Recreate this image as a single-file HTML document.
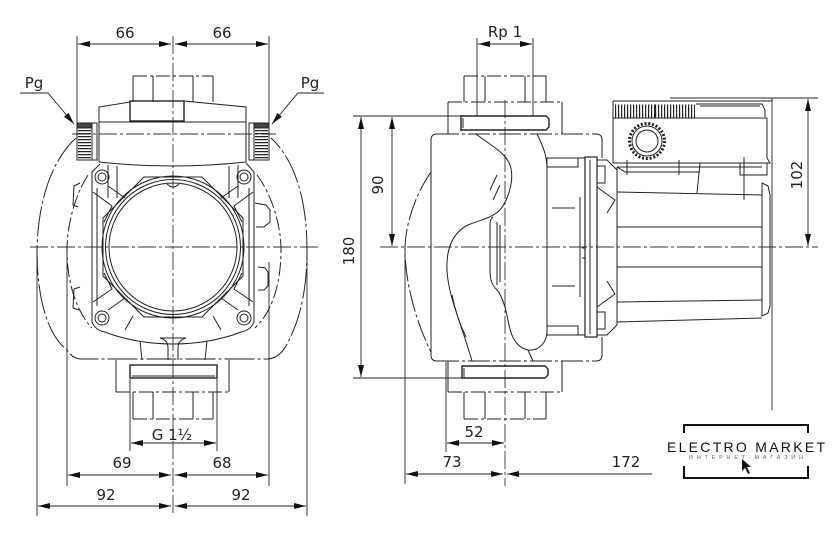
<!DOCTYPE html>
<html><head><meta charset="utf-8"><style>
html,body{margin:0;padding:0;background:#fff;}
svg{display:block;}
text{font-family:"DejaVu Sans","Liberation Sans",sans-serif;fill:#222;font-size:15px;}
</style></head><body>
<svg width="840" height="535" viewBox="0 0 840 535" xmlns="http://www.w3.org/2000/svg">
<defs>
<marker id="a" viewBox="0 0 12 6" refX="12" refY="3" markerWidth="12" markerHeight="6" markerUnits="userSpaceOnUse" orient="auto-start-reverse"><path d="M0,0 L12,3 L0,6 Z" fill="#111"/></marker>
</defs>
<rect width="840" height="535" fill="#fff"/>

<!-- ================= CENTER LINES ================= -->
<g fill="none" stroke="#333" stroke-width="0.9" stroke-dasharray="18 3 3 3">
<line x1="173" y1="36" x2="173" y2="516"/>
<line x1="30" y1="247" x2="320" y2="247"/>
<line x1="72" y1="134" x2="276" y2="134"/>
<line x1="505" y1="100" x2="505" y2="486"/>
<line x1="380" y1="247" x2="818" y2="247"/>
</g>

<!-- ================= LEFT VIEW ================= -->
<g fill="none" stroke="#222" stroke-width="1">
<!-- outer silhouette (phantom) -->
<path stroke-dasharray="30 3 3 3" d="M76,138 C52,160 38,200 37,250 C37,300 48,335 67,350 Q72,358 80,359 L268,359 Q280,358 287,344 C300,320 307,290 307,250 C307,200 295,160 271,138"/>
<!-- inner contour (phantom) -->
<path stroke-dasharray="14 3 3 3" d="M88,175 C75,195 67,225 67,250 C67,280 75,310 92,328"/>
<path stroke-dasharray="14 3 3 3" d="M257,175 C272,195 281,225 281,250 C281,280 274,310 255,328"/>

<!-- top connection -->
<line x1="133" y1="76" x2="213" y2="76" stroke-dasharray="14 3 3 3"/>
<path d="M133,76 V102 M153,76 V102 M193,76 V102 M213,76 V102"/>
<rect x="130" y="101" width="54" height="20" stroke-width="1.4"/>
<path d="M99,162 V107 L130,102 M184,101 L246,107 V162"/>
<line x1="99" y1="122" x2="246" y2="122"/>
<path d="M99,162 Q173,170 246,162"/>

<!-- nuts -->
<rect x="77" y="123" width="20" height="37"/>
<line x1="92" y1="123" x2="92" y2="160"/>
<rect x="77" y="123" width="15" height="5" fill="#444"/>
<line x1="84.5" y1="130" x2="84.5" y2="159" stroke-width="13" stroke-dasharray="1.2 1.8"/>
<rect x="249" y="123" width="20" height="37"/>
<line x1="254" y1="123" x2="254" y2="160"/>
<rect x="254" y="123" width="15" height="5" fill="#444"/>
<line x1="261.5" y1="130" x2="261.5" y2="159" stroke-width="13" stroke-dasharray="1.2 1.8"/>

<!-- legs -->
<path d="M108,165 V198 M117,166 V198 M229,166 V198 M238,165 V198"/>

<!-- flange body -->
<path d="M100,164 L92,172 L92,322 Q95,330 105,332 C125,340 150,344 173,344 C196,344 221,340 241,332 Q251,330 254,322 L254,172 L246,163"/>
<path d="M97,188 V306 M249,188 V306"/>
<!-- side tabs -->
<path d="M80,183 L74,186 L73,205 L78,207"/>
<path d="M80,287 L74,289 L73,308 L79,310"/>
<path d="M255,203 L266,205 L270,210 L270,222 L264,227 L256,227"/>
<path d="M258,267 L265,268 L268,272 L268,286 L264,290 L258,290"/>
<!-- bolts -->
<circle cx="102" cy="177" r="7"/><circle cx="102" cy="177" r="4"/>
<circle cx="244" cy="177" r="7"/><circle cx="244" cy="177" r="4"/>
<circle cx="102" cy="318" r="7"/><circle cx="102" cy="318" r="4"/>
<circle cx="244" cy="318" r="7"/><circle cx="244" cy="318" r="4"/>
<!-- corner ribs -->
<path d="M93,192 L112,206 L104,222 M108,186 L125,198 M238,186 L221,198 M253,192 L234,206 L242,222"/>
<path d="M93,302 L112,289 L104,273 M108,310 L125,298 M238,310 L221,298 M253,302 L234,289 L242,273"/>
<path d="M125,330 L133,316 M221,330 L213,316"/>
<!-- circles -->
<polygon points="243,276 202,317 144,317 103,276 103,218 144,177 202,177 243,218"/>
<circle cx="173" cy="247" r="71"/>
<circle cx="173" cy="247" r="67.5"/>
<circle cx="173" cy="247" r="64"/>
<path d="M167,184 Q173,190 179,184"/>
<!-- neck -->
<path d="M140,341 L142,360 M207,341 L205,360"/>
<path d="M160,338 Q168,340 168,348 V360 M186,338 Q178,340 178,348 V360 M160,338 H186"/>

<!-- bottom connection -->
<path d="M116,360 V392 M229,360 V392"/>
<line x1="116" y1="392" x2="229" y2="392" stroke-dasharray="14 3 3 3"/>
<rect x="130" y="365" width="87" height="13" stroke-width="1.4"/>
<line x1="132" y1="376" x2="215" y2="376"/>
<path d="M133,392 V419 M153,392 V419 M193,392 V419 M213,392 V419"/>
<line x1="133" y1="419" x2="213" y2="419" stroke-dasharray="14 3 3 3"/>
</g>

<!-- left view dimensions -->
<g fill="none" stroke="#222" stroke-width="0.9">
<line x1="77" y1="36" x2="77" y2="126"/>
<line x1="269" y1="36" x2="269" y2="126"/>
<line x1="78" y1="44" x2="171" y2="44" marker-start="url(#a)" marker-end="url(#a)"/>
<line x1="175" y1="44" x2="268" y2="44" marker-start="url(#a)" marker-end="url(#a)"/>
<polyline points="20,93 48,93 74,124" marker-end="url(#a)"/>
<polyline points="324,93 298,93 272,124" marker-end="url(#a)"/>
<line x1="130" y1="379" x2="130" y2="451"/>
<line x1="217" y1="379" x2="217" y2="451"/>
<line x1="131" y1="443" x2="216" y2="443" marker-start="url(#a)" marker-end="url(#a)"/>
<line x1="67" y1="245" x2="67" y2="486"/>
<line x1="269" y1="262" x2="269" y2="486"/>
<line x1="68" y1="475" x2="171" y2="475" marker-start="url(#a)" marker-end="url(#a)"/>
<line x1="175" y1="475" x2="268" y2="475" marker-start="url(#a)" marker-end="url(#a)"/>
<line x1="37" y1="250" x2="37" y2="516"/>
<line x1="307" y1="250" x2="307" y2="516"/>
<line x1="38" y1="506" x2="171" y2="506" marker-start="url(#a)" marker-end="url(#a)"/>
<line x1="175" y1="506" x2="306" y2="506" marker-start="url(#a)" marker-end="url(#a)"/>
</g>
<g text-anchor="middle">
<text x="125" y="38">66</text>
<text x="222" y="38">66</text>
<text x="34" y="88">Pg</text>
<text x="310" y="88">Pg</text>
<text x="172" y="440">G 1½</text>
<text x="122" y="468">69</text>
<text x="222" y="468">68</text>
<text x="106" y="500">92</text>
<text x="241" y="500">92</text>
</g>

<!-- ================= RIGHT VIEW ================= -->
<g fill="none" stroke="#222" stroke-width="1">
<!-- top connection -->
<line x1="464" y1="76" x2="546" y2="76" stroke-dasharray="14 3 3 3"/>
<path d="M464,76 V102 M485,76 V102 M525,76 V102 M546,76 V102"/>
<line x1="448" y1="102" x2="562" y2="102" stroke-dasharray="14 3 3 3"/>
<path d="M448,102 V134 M562,102 V134"/>
<path d="M461,116 H546 L549,119 V127 L546,130 H461 Z" stroke-width="1.4"/>
<line x1="463" y1="118" x2="463" y2="128"/>
<!-- housing -->
<path d="M437,134 Q431,134 431,140 L431,355 Q431,361 437,361 M596,134 Q602,134 602,140 L602,158 M602,337 L602,355 Q602,361 596,361"/>
<line x1="437" y1="134" x2="596" y2="134" stroke-dasharray="22 3 3 3"/>
<line x1="437" y1="361" x2="596" y2="361" stroke-dasharray="22 3 3 3"/>
<path stroke-dasharray="22 3 3 3" d="M431,172 C415,195 405,225 405,250 C405,280 415,320 431,352"/>
<!-- volute -->
<path d="M476,134 C490,145 505,152 510,165 C515,180 508,200 500,210 C492,218 480,220 468,225 C452,233 446,250 447,270 C448,295 460,320 472,361"/>
<path d="M452,295 C455,310 460,325 466,337"/>
<path d="M490,190 L497,175 M493,200 L500,185"/>
<path d="M537,134 C545,150 547,158 547,170 L547,330 C547,345 537,351 528,350 C518,348 512,340 509,325 C506,310 503,297 497,290 C492,285 490,280 490,270 L490,225 C490,220 491,218 493,217"/>
<path d="M497,222 V285 M500,225 V282"/>
<path d="M528,350 L533,361"/>
<!-- bottom connection -->
<path d="M448,361 V392 M562,361 V392"/>
<line x1="448" y1="392" x2="562" y2="392" stroke-dasharray="14 3 3 3"/>
<path d="M462,366 H545 L548,369 V375 L545,378 H462 Z" stroke-width="1.4"/>
<line x1="464" y1="368" x2="464" y2="377"/>
<path d="M464,392 V419 M485,392 V419 M525,392 V419 M546,392 V419"/>
<line x1="464" y1="419" x2="546" y2="419" stroke-dasharray="14 3 3 3"/>
<!-- adapter -->
<rect x="547" y="158" width="38" height="177"/>
<path d="M547,167 H578 V158 M547,326 H578 V335 M580,197 V297 M582,248 H585 M582,258 H585"/>
<path d="M552,208 H575 M552,286 H575"/>
<!-- flange -->
<rect x="585" y="157" width="12" height="180" stroke-width="1.2"/>
<line x1="590" y1="160" x2="590" y2="334"/>
<path d="M597,160 H607 L617,170 V325 L607,335 H597"/>
<path d="M597,187 L615,200 L607,213 M597,307 L615,294 L607,281"/>
<rect x="597" y="166" width="8" height="17"/>
<rect x="597" y="312" width="8" height="17"/>
<!-- motor -->
<path d="M617,167 H762 M617,167 V322 L762,318"/>
<path d="M617,192 L762,195 M617,227 L762,227 M617,267 L762,267 M617,302 L762,300"/>
<path d="M762,183 L768,186 L770,195 L770,306 L768,313 L762,316 Z"/>
<!-- bracket under control box -->
<path d="M700,163 L697,193 M740,163 V175 H767 V163 M744,157 V200 M627,160 V175 M679,160 V175"/>
<path d="M617,167 L625,172 H700"/>
<!-- control box -->
<path d="M613,101 H772 M613,101 V163 H770 L767,158 V118 M613,118 H767"/>
<path d="M670,98 H772 V101"/>
<line x1="655" y1="111" x2="695" y2="111" stroke-width="13" stroke-dasharray="1.2 1.8"/>
<line x1="615" y1="111" x2="655" y2="111" stroke-width="13" stroke-dasharray="1.2 1.8"/>
<path d="M696,104 H762 L765,110 V117 M700,106 H760" />
<circle cx="647" cy="141" r="17.5" stroke-width="3" stroke-dasharray="2 1.8"/>
<circle cx="647" cy="141" r="15"/>
<circle cx="647" cy="141" r="11"/>
</g>

<!-- right view dimensions -->
<g fill="none" stroke="#222" stroke-width="0.9">
<line x1="477" y1="38" x2="477" y2="116"/>
<line x1="533" y1="38" x2="533" y2="116"/>
<line x1="478" y1="44" x2="532" y2="44" marker-start="url(#a)" marker-end="url(#a)"/>
<line x1="353" y1="116" x2="461" y2="116"/>
<line x1="353" y1="378" x2="462" y2="378"/>
<line x1="392" y1="117" x2="392" y2="246" marker-start="url(#a)" marker-end="url(#a)"/>
<line x1="361" y1="117" x2="361" y2="377" marker-start="url(#a)" marker-end="url(#a)"/>
<line x1="772" y1="98" x2="818" y2="98"/>
<line x1="808" y1="99" x2="808" y2="246" marker-start="url(#a)" marker-end="url(#a)"/>
<line x1="772" y1="101" x2="772" y2="410"/>
<line x1="446" y1="362" x2="446" y2="452"/>
<line x1="447" y1="443" x2="504" y2="443" marker-start="url(#a)" marker-end="url(#a)"/>
<line x1="405" y1="250" x2="405" y2="484"/>
<line x1="406" y1="474" x2="503" y2="474" marker-start="url(#a)" marker-end="url(#a)"/>
<line x1="507" y1="474" x2="652" y2="474" marker-start="url(#a)"/>
</g>
<g text-anchor="middle">
<text x="505" y="37">Rp 1</text>
<text transform="translate(383,185) rotate(-90)">90</text>
<text transform="translate(354,251) rotate(-90)">180</text>
<text transform="translate(802,175) rotate(-90)">102</text>
<text x="474" y="437">52</text>
<text x="452" y="467">73</text>
<text x="626" y="467">172</text>
</g>

<!-- ================= LOGO ================= -->
<g fill="none" stroke="#111" stroke-width="2">
<polyline points="684,433 684,425 808,425 808,433"/>
<polyline points="684,466 684,478 808,478 808,466"/>
</g>
<text x="667" y="452" textLength="158" lengthAdjust="spacing" style="font-family:'Liberation Sans',sans-serif;font-size:14px;fill:#111;">ELECTRO MARKET</text>
<text x="689" y="459" textLength="114" lengthAdjust="spacing" style="font-family:'Liberation Sans','DejaVu Sans',sans-serif;font-size:5.5px;fill:#666;">ИНТЕРНЕТ-МАГАЗИН</text>
<polygon points="742,459 742,471 745,468 748,474 750,473 747,467 751,467" fill="#111"/>
</svg>
</body></html>
